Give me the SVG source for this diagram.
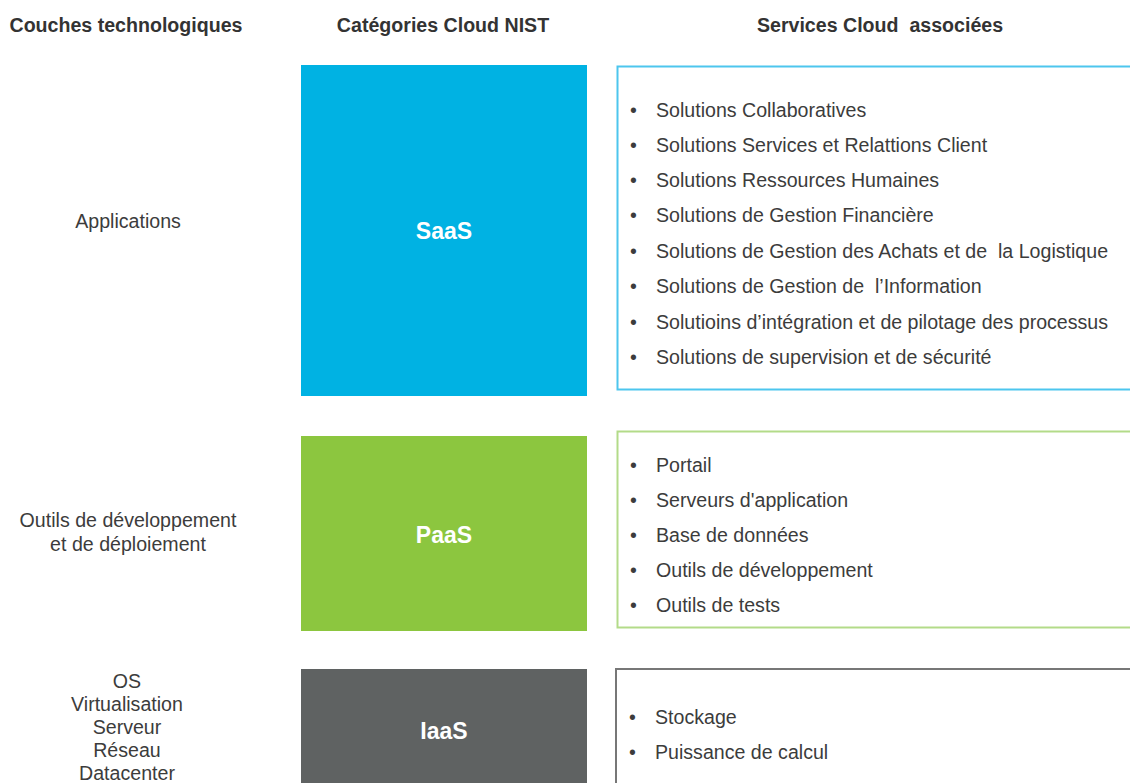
<svg xmlns="http://www.w3.org/2000/svg" width="1130" height="783" viewBox="0 0 1130 783">
<style>
text{font-family:"Liberation Sans",Arial,sans-serif;fill:#3c3c3c}
.hd{font-size:19.6px;font-weight:bold;text-anchor:middle;fill:#333}
.lb{font-size:19.6px;text-anchor:middle}
.cat{font-size:23px;font-weight:bold;text-anchor:middle;fill:#fff}
.it text{font-size:19.6px}
</style>
<rect width="1130" height="783" fill="#fff"/>
<g id="headers">
<text class="hd" x="126" y="32">Couches technologiques</text>
<text class="hd" x="443" y="32">Catégories Cloud NIST</text>
<text class="hd" x="880" y="32" xml:space="preserve">Services Cloud  associées</text>
</g>
<g id="layer-applications"><text class="lb" x="128" y="228">Applications</text></g>
<g id="layer-outils">
<text class="lb" x="128" y="527">Outils de développement</text>
<text class="lb" x="128" y="551">et de déploiement</text>
</g>
<g id="layer-infra">
<text class="lb" x="127" y="688">OS</text>
<text class="lb" x="127" y="711">Virtualisation</text>
<text class="lb" x="127" y="734">Serveur</text>
<text class="lb" x="127" y="757">Réseau</text>
<text class="lb" x="127" y="780">Datacenter</text>
</g>
<g id="saas">
<rect x="301" y="65" width="286" height="331" fill="#00B2E3"/>
<text class="cat" x="444" y="239">SaaS</text>
</g>
<g id="paas">
<rect x="301" y="436" width="286" height="195" fill="#8CC63F"/>
<text class="cat" x="444" y="543">PaaS</text>
</g>
<g id="iaas">
<rect x="301" y="669" width="286" height="120" fill="#5F6262"/>
<text class="cat" x="444" y="739">IaaS</text>
</g>
<g id="saas-services">
<rect x="617.5" y="66.5" width="520" height="323" fill="#fff" stroke="#4DC6EE" stroke-width="2"/>
<g class="it">
<text x="630" y="117">•</text><text x="656" y="117">Solutions Collaboratives</text>
<text x="630" y="152">•</text><text x="656" y="152">Solutions Services et Relattions Client</text>
<text x="630" y="187">•</text><text x="656" y="187">Solutions Ressources Humaines</text>
<text x="630" y="222">•</text><text x="656" y="222">Solutions de Gestion Financière</text>
<text x="630" y="258">•</text><text x="656" y="258" xml:space="preserve">Solutions de Gestion des Achats et de  la Logistique</text>
<text x="630" y="293">•</text><text x="656" y="293" xml:space="preserve">Solutions de Gestion de  l’Information</text>
<text x="630" y="329">•</text><text x="656" y="329">Solutioins d’intégration et de pilotage des processus</text>
<text x="630" y="364">•</text><text x="656" y="364">Solutions de supervision et de sécurité</text>
</g>
</g>
<g id="paas-services">
<rect x="617.5" y="431.5" width="520" height="196" fill="#fff" stroke="#B3DB89" stroke-width="2"/>
<g class="it">
<text x="630" y="472">•</text><text x="656" y="472">Portail</text>
<text x="630" y="507">•</text><text x="656" y="507">Serveurs d'application</text>
<text x="630" y="542">•</text><text x="656" y="542">Base de données</text>
<text x="630" y="577">•</text><text x="656" y="577">Outils de développement</text>
<text x="630" y="612">•</text><text x="656" y="612">Outils de tests</text>
</g>
</g>
<g id="iaas-services">
<rect x="616" y="669" width="520" height="130" fill="#fff" stroke="#777" stroke-width="2"/>
<g class="it">
<text x="629" y="724">•</text><text x="655" y="724">Stockage</text>
<text x="629" y="759">•</text><text x="655" y="759">Puissance de calcul</text>
</g>
</g>
</svg>
